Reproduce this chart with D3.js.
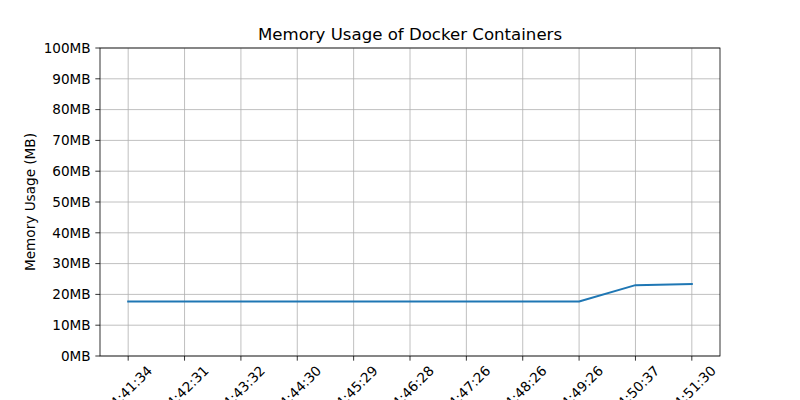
<!DOCTYPE html>
<html>
<head>
<meta charset="utf-8">
<script src="https://cdn.jsdelivr.net/npm/d3@7"></script>
<style>
  body { margin: 0; background: #fff; }
  text { font-family: "DejaVu Sans", sans-serif; fill: #000; }
</style>
</head>
<body>
<svg id="chart" width="800" height="400"></svg>
<script>
// sample times (x categories) and memory usage in MB
var times = ["14:41:34", "14:42:31", "14:43:32", "14:44:30", "14:45:29", "14:46:28",
             "14:47:26", "14:48:26", "14:49:26", "14:50:37", "14:51:30"];
var memoryMB = [17.7, 17.7, 17.7, 17.7, 17.7, 17.7, 17.7, 17.7, 17.7, 23.0, 23.4];
var yTicks = [0, 10, 20, 30, 40, 50, 60, 70, 80, 90, 100];

var svg = d3.select("#chart");
// plot box (window.top is reserved, so use other names)
var plotL = 100, plotR = 720, plotT = 48, plotB = 356;
var tickLen = 4.67, pad = 4.67;

// categorical x like matplotlib: index positions with half-step margins
var x = d3.scaleLinear().domain([-0.5, times.length - 0.5]).range([plotL, plotR]);
var y = d3.scaleLinear().domain([0, 100]).range([plotB, plotT]);

// grid
var grid = svg.append("g").attr("stroke", "#b0b0b0").attr("stroke-width", 0.8);
grid.selectAll("line.v").data(times).enter().append("line")
    .attr("x1", function (d, i) { return x(i); }).attr("x2", function (d, i) { return x(i); })
    .attr("y1", plotT).attr("y2", plotB);
grid.selectAll("line.h").data(yTicks).enter().append("line")
    .attr("x1", plotL).attr("x2", plotR)
    .attr("y1", function (d) { return y(d); }).attr("y2", function (d) { return y(d); });

// line
var line = d3.line()
    .x(function (d, i) { return x(i); })
    .y(function (d) { return y(d); });
svg.append("path").datum(memoryMB)
    .attr("d", line)
    .attr("fill", "none")
    .attr("stroke", "#1f77b4")
    .attr("stroke-width", 2)
    .attr("stroke-linejoin", "round")
    .attr("stroke-linecap", "square");

// frame
svg.append("rect")
    .attr("x", plotL).attr("y", plotT)
    .attr("width", plotR - plotL).attr("height", plotB - plotT)
    .attr("fill", "none").attr("stroke", "#000").attr("stroke-width", 0.8);

// y ticks
var yg = svg.append("g");
yg.selectAll("line").data(yTicks).enter().append("line")
    .attr("x1", plotL - tickLen).attr("x2", plotL)
    .attr("y1", function (d) { return y(d); }).attr("y2", function (d) { return y(d); })
    .attr("stroke", "#000").attr("stroke-width", 0.8);
yg.selectAll("text").data(yTicks).enter().append("text")
    .attr("x", plotL - tickLen - pad)
    .attr("y", function (d) { return y(d); })
    .attr("dy", "0.35em")
    .attr("text-anchor", "end")
    .style("font-size", "13.6px")
    .text(function (d) { return d + "MB"; });

// x ticks, labels rotated 45 and centred on the tick
var xg = svg.append("g");
xg.selectAll("line").data(times).enter().append("line")
    .attr("x1", function (d, i) { return x(i); }).attr("x2", function (d, i) { return x(i); })
    .attr("y1", plotB).attr("y2", plotB + tickLen)
    .attr("stroke", "#000").attr("stroke-width", 0.8);
xg.selectAll("text").data(times).enter().append("text")
    .attr("text-anchor", "middle")
    .attr("dy", "0.35em")
    .style("font-size", "13.6px")
    .text(function (d) { return d; })
    .each(function (d, i) {
        var b = this.getBBox();
        var half = (b.width + 13.6) * Math.SQRT1_2 / 2;
        var cx = x(i), cy = plotB + tickLen + pad + half - 2;
        d3.select(this).attr("transform", "translate(" + cx + "," + cy + ") rotate(-45)");
    });

// labels
svg.append("text")
    .attr("x", (plotL + plotR) / 2).attr("y", plotT - 8)
    .attr("text-anchor", "middle")
    .style("font-size", "16.6px")
    .text("Memory Usage of Docker Containers");

svg.append("text")
    .attr("transform", "translate(30," + (plotT + plotB) / 2 + ") rotate(-90)")
    .attr("text-anchor", "middle")
    .attr("dy", "0.35em")
    .style("font-size", "13.6px")
    .text("Memory Usage (MB)");
</script>
</body>
</html>
